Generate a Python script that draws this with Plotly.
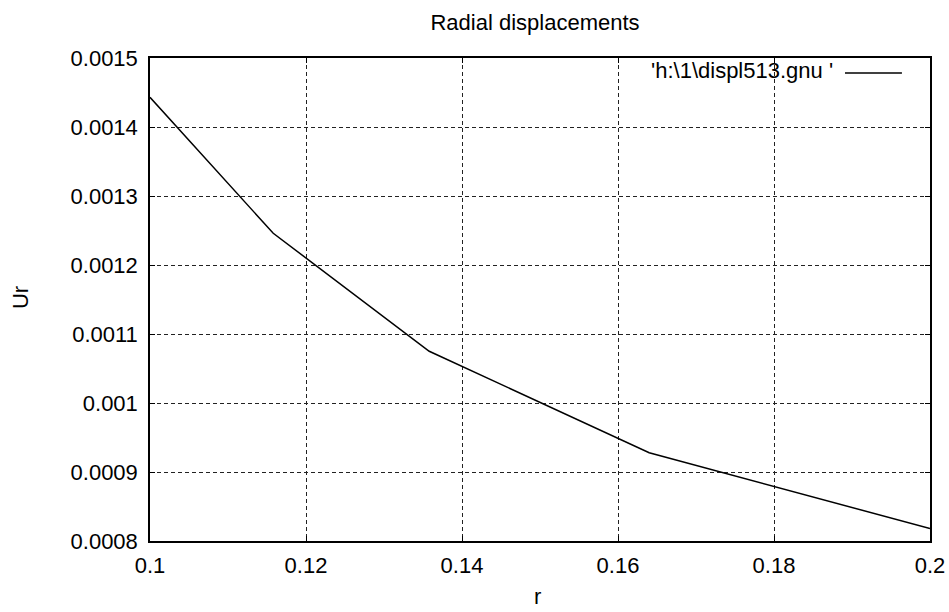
import plotly.graph_objects as go

# Radial displacement Ur versus radius r
r_values = [0.1, 0.1158, 0.1358, 0.164, 0.2]
ur_values = [0.001443, 0.001246, 0.001075, 0.000928, 0.000818]

x_ticks = [0.1, 0.12, 0.14, 0.16, 0.18, 0.2]
x_tick_labels = ["0.1", "0.12", "0.14", "0.16", "0.18", "0.2"]
y_ticks = [0.0008, 0.0009, 0.0010, 0.0011, 0.0012, 0.0013, 0.0014, 0.0015]
y_tick_labels = ["0.0008", "0.0009", "0.001", "0.0011", "0.0012", "0.0013", "0.0014", "0.0015"]

series_name = "'h:\\1\\displ513.gnu '"

FONT = "Liberation Sans, Arial, sans-serif"
FS = 22

fig = go.Figure()
fig.add_trace(go.Scatter(
    x=r_values, y=ur_values, mode="lines",
    line=dict(color="black", width=1.5),
    name=series_name, showlegend=False,
))

axis_common = dict(
    showline=True, linecolor="black", linewidth=1.5, mirror="ticks",
    ticks="inside", ticklen=5, tickcolor="black", tickwidth=1,
    showgrid=True, gridcolor="#222222", gridwidth=1, griddash="4px,3px",
    zeroline=False, automargin=False,
    tickfont=dict(family=FONT, size=FS, color="black"),
)

fig.update_xaxes(range=[0.1, 0.2], tickvals=x_ticks, ticktext=x_tick_labels,
                 ticklabelstandoff=4, **axis_common)
fig.update_yaxes(range=[0.0008, 0.0015], tickvals=y_ticks, ticktext=y_tick_labels,
                 ticklabelstandoff=6, **axis_common)

# Axis titles
fig.add_annotation(text="r", xref="paper", yref="paper", x=0.497, y=-0.144,
                   xanchor="center", yanchor="bottom", showarrow=False,
                   font=dict(family=FONT, size=FS, color="black"))
fig.add_annotation(text="Ur", xref="paper", yref="paper", x=-0.1667, y=0.505,
                   xanchor="center", yanchor="middle", textangle=-90, showarrow=False,
                   font=dict(family=FONT, size=FS, color="black"))

# Legend block in gnuplot style: label on the left, line sample on the right
fig.add_shape(type="rect", xref="paper", yref="paper",
              x0=0.592, x1=0.997, y0=0.94, y1=0.995,
              fillcolor="white", line=dict(width=0), layer="between")
fig.add_shape(type="line", xref="paper", yref="paper",
              x0=0.891, x1=0.964, y0=0.969, y1=0.969,
              line=dict(color="black", width=1.5), layer="above")
fig.add_annotation(text=series_name, xref="paper", yref="paper",
                   x=0.878, y=0.975, xanchor="right", yanchor="middle",
                   showarrow=False,
                   font=dict(family=FONT, size=FS, color="black"))

fig.update_layout(
    width=949, height=612,
    margin=dict(l=150, r=19, t=58, b=71, autoexpand=False),
    paper_bgcolor="white", plot_bgcolor="white",
    title=dict(text="Radial displacements", x=535 / 949, xanchor="center",
               y=1 - 22 / 612, yanchor="middle",
               font=dict(family=FONT, size=FS, color="black")),
)

fig.write_html("out.html")
